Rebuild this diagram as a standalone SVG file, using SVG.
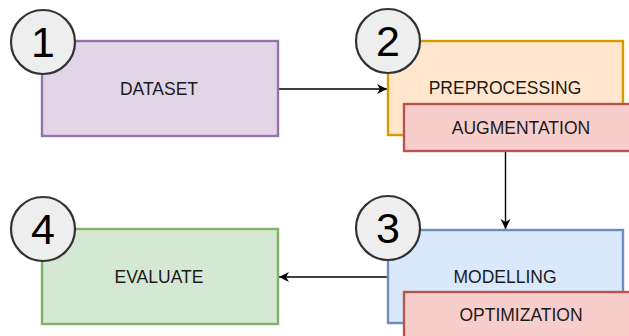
<svg xmlns="http://www.w3.org/2000/svg" width="629" height="336" viewBox="0 0 629 336">
<style>
.box{stroke-width:2.4}
.lbl{font-family:"Liberation Sans",Arial,sans-serif;font-size:17.5px;fill:#1a1a1a;text-anchor:middle}
.num{font-family:"Liberation Sans",Arial,sans-serif;font-size:43px;fill:#000;text-anchor:middle}
.circ{fill:#eeeeee;stroke:#333333;stroke-width:2.2}
.edge{stroke:#000;stroke-width:1.4;fill:none}
</style>
<defs>
<marker id="arr" markerWidth="12" markerHeight="12" viewBox="0 0 12 12" refX="10" refY="6" orient="auto" markerUnits="userSpaceOnUse">
<path d="M0,1 L10,6 L0,11 L3,6 Z" fill="#000"/>
</marker>
</defs>
<rect width="629" height="336" fill="#fff"/>
<g id="connectors">
<line class="edge" x1="279" y1="89" x2="387" y2="89" marker-end="url(#arr)"/>
<line class="edge" x1="505.5" y1="152" x2="505.5" y2="229" marker-end="url(#arr)"/>
<line class="edge" x1="387" y1="277" x2="279" y2="277" marker-end="url(#arr)"/>
</g>
<g id="dataset">
<rect class="box" x="42" y="41" width="236" height="95" fill="#e1d5e7" stroke="#9673a6"/>
<text class="lbl" x="159" y="95">DATASET</text>
</g>
<g id="preprocessing">
<rect class="box" x="388" y="41" width="235" height="94" fill="#ffe6cc" stroke="#d79b00"/>
<text class="lbl" x="505" y="94">PREPROCESSING</text>
</g>
<g id="augmentation">
<rect class="box" x="404" y="104" width="236" height="47" fill="#f8cecc" stroke="#b85450"/>
<text class="lbl" x="521" y="134">AUGMENTATION</text>
</g>
<g id="modelling">
<rect class="box" x="388" y="230" width="235" height="93" fill="#dae8fc" stroke="#6c8ebf"/>
<text class="lbl" x="505" y="283">MODELLING</text>
</g>
<g id="optimization">
<rect class="box" x="404" y="292" width="236" height="48" fill="#f8cecc" stroke="#b85450"/>
<text class="lbl" x="521" y="321">OPTIMIZATION</text>
</g>
<g id="evaluate">
<rect class="box" x="42" y="229" width="236" height="95" fill="#d5e8d4" stroke="#82b366"/>
<text class="lbl" x="159" y="283">EVALUATE</text>
</g>
<g id="step1">
<circle class="circ" cx="43" cy="42" r="32"/>
<text class="num" x="43" y="57">1</text>
</g>
<g id="step2">
<circle class="circ" cx="388" cy="41" r="32"/>
<text class="num" x="388" y="56">2</text>
</g>
<g id="step3">
<circle class="circ" cx="388" cy="228" r="32"/>
<text class="num" x="388" y="243">3</text>
</g>
<g id="step4">
<circle class="circ" cx="43" cy="229" r="32"/>
<text class="num" x="43" y="244">4</text>
</g>
</svg>
